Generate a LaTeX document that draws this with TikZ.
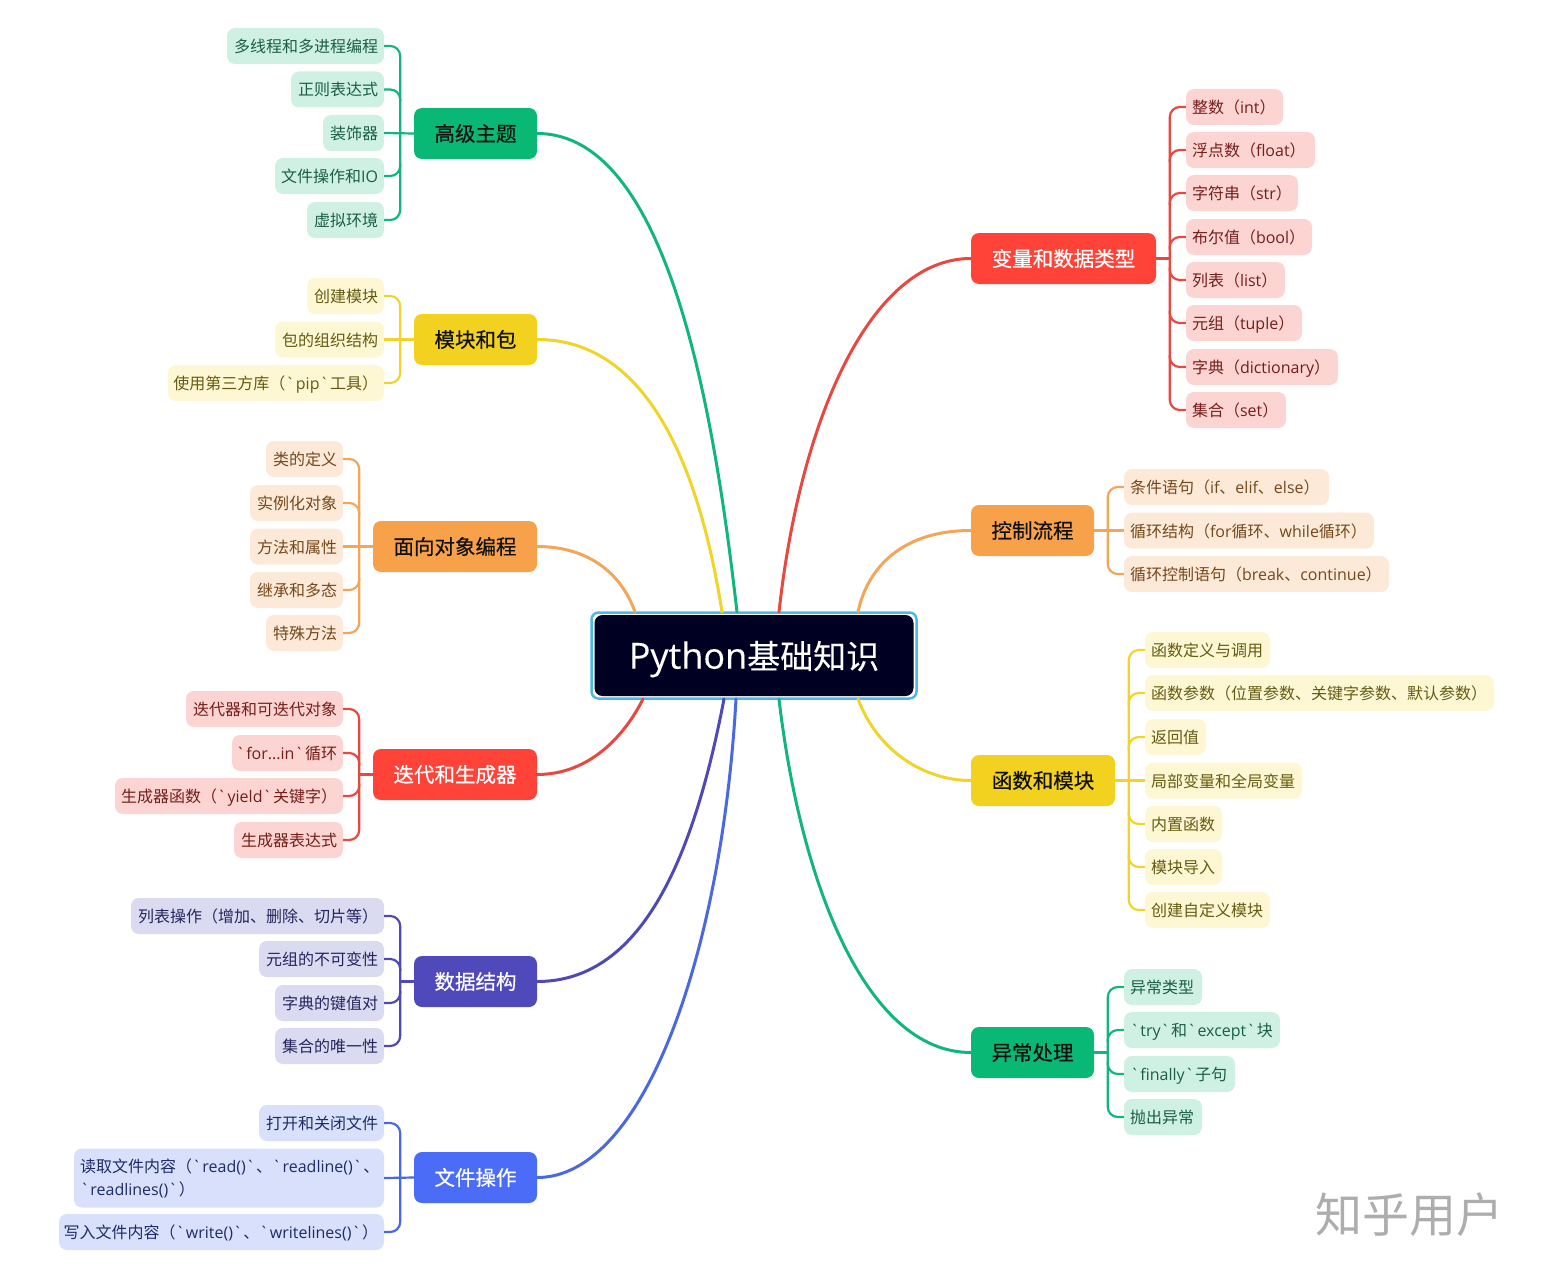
\documentclass[tikz,border=0pt]{standalone}
\usepackage{fontspec}
\setmainfont{Noto Sans CJK SC}
\newfontfamily\latf{Open Sans}
\newfontfamily\hubf[FakeBold=0.45]{Noto Sans CJK SC}
\newfontfamily\ttlc[FakeBold=0.15]{Noto Sans CJK SC}
\newfontfamily\ttll[FakeBold=0.2]{Open Sans}
\newcommand\la[1]{{\latf\spaceskip=1.2pt\relax #1}}
\newcommand\lift{\rule[-7pt]{0pt}{27pt}}
\definecolor{grnH}{HTML}{09B874}\definecolor{grnL}{HTML}{CFF1E4}\definecolor{grnT}{HTML}{1B5E45}\definecolor{grnC}{HTML}{12B57F}
\definecolor{yelH}{HTML}{F2D21F}\definecolor{yelL}{HTML}{FDF8D3}\definecolor{yelT}{HTML}{665A12}\definecolor{yelC}{HTML}{F0D429}
\definecolor{oraH}{HTML}{F7A14B}\definecolor{oraL}{HTML}{FDE9D8}\definecolor{oraT}{HTML}{74491C}\definecolor{oraC}{HTML}{F2A65A}
\definecolor{redH}{HTML}{FF4338}\definecolor{redL}{HTML}{FCD5D3}\definecolor{redT}{HTML}{741E1A}\definecolor{redC}{HTML}{E8483F}
\definecolor{purH}{HTML}{4F49BC}\definecolor{purL}{HTML}{DADAF1}\definecolor{purT}{HTML}{26245E}\definecolor{purC}{HTML}{4F49B5}
\definecolor{bluH}{HTML}{4A6CF7}\definecolor{bluL}{HTML}{D8E0FB}\definecolor{bluT}{HTML}{1E2C66}\definecolor{bluC}{HTML}{4A68E0}
\definecolor{navy}{HTML}{000022}\definecolor{halo}{HTML}{4DB8E8}\definecolor{ink}{HTML}{111111}
\tikzset{
  leafb/.style={rounded corners=8pt,inner xsep=6pt,inner ysep=0pt,minimum height=36pt,font=\fontsize{16}{23}\selectfont},
  hubb/.style={rounded corners=8pt,inner sep=0pt,minimum height=51pt,font=\fontsize{20.5}{24}\selectfont\hubf},
  brk/.style={line width=2.2pt,rounded corners=10pt},
  mainc/.style={line width=3pt,line cap=round},
  grnS/.style={fill=grnL,text=grnT},yelS/.style={fill=yelL,text=yelT},oraS/.style={fill=oraL,text=oraT},
  redS/.style={fill=redL,text=redT},purS/.style={fill=purL,text=purT},bluS/.style={fill=bluL,text=bluT},
}
\newcommand\lleaf[6]{\pgfmathsetmacro\lfw{#3-#2-12}\node[leafb,#6] (#1) at ({(#2+#3)/2},#4) {\makebox[\lfw pt][r]{\lift #5}};}
\newcommand\rleaf[6]{\pgfmathsetmacro\lfw{#3-#2-12}\node[leafb,#6] (#1) at ({(#2+#3)/2},#4) {\makebox[\lfw pt][l]{\lift #5}};}
\newcommand\hub[6]{\pgfmathsetmacro\lfw{#3-#2}\node[hubb,fill=#6,minimum width=\lfw pt] (#1) at ({(#2+#3)/2},#4) {#5};}
\newcommand\spine[5]{\draw[brk,#5] (#1.#3) -- ++(#4,0) |- (#2.#3);}
\newcommand\twig[5]{\draw[brk,#5] (#1.#2) -- ++(#3,0) -- ++(0,#4);}
\begin{document}
\begin{tikzpicture}[x=1pt,y=-1pt]
\useasboundingbox (0,0) rectangle (1546,1268);
% centre
\node[draw=halo,line width=2.5pt,rounded corners=7pt,minimum width=325pt,minimum height=86pt,inner sep=0pt] (outer) at (754,655.5) {};
\node[fill=navy,rounded corners=8pt,minimum width=319pt,minimum height=81pt,inner sep=0pt,text=white,font=\fontsize{33}{36}\selectfont] (ctr) at (754,655.5) {\rule[-8pt]{0pt}{43pt}{\fontsize{36}{36}\selectfont\ttll Python}{\ttlc 基础知识}};
\coordinate (pa) at (737,612);\coordinate (pb) at (722,612);\coordinate (pc) at (635,612);
\coordinate (pd) at (643,699);\coordinate (pe) at (724,699);\coordinate (pf) at (736,699);
\coordinate (pg) at (779,612);\coordinate (ph) at (858,612);\coordinate (pi) at (858,699);\coordinate (pj) at (779,699);
% hubs
\hub{h1}{414}{537}{133.5}{\textcolor{ink}{高级主题}}{grnH}
\hub{h2}{414}{537}{339.5}{\textcolor{ink}{模块和包}}{yelH}
\hub{h3}{373}{537}{546.5}{\textcolor{ink}{面向对象编程}}{oraH}
\hub{h4}{373}{537}{774.5}{\textcolor{white}{迭代和生成器}}{redH}
\hub{h5}{414}{537}{981.5}{\textcolor{white}{数据结构}}{purH}
\hub{h6}{414}{537}{1177.5}{\textcolor{white}{文件操作}}{bluH}
\hub{h7}{971}{1156}{258.5}{\textcolor{white}{变量和数据类型}}{redH}
\hub{h8}{971}{1094}{530.5}{\textcolor{ink}{控制流程}}{oraH}
\hub{h9}{971}{1115}{780.5}{\textcolor{ink}{函数和模块}}{yelH}
\hub{h10}{971}{1094}{1052.5}{\textcolor{ink}{异常处理}}{grnH}
% main connectors
\draw[mainc,grnC] (h1.east) .. controls (670,133.5) and (715,420) .. (pa);
\draw[mainc,yelC] (h2.east) .. controls (635,339.5) and (695,440) .. (pb);
\draw[mainc,oraC] (h3.east) .. controls (590,546.5) and (622,575) .. (pc);
\draw[mainc,redC] (h4.east) .. controls (590,774.5) and (625,735) .. (pd);
\draw[mainc,purC] (h5.east) .. controls (645,981.5) and (695,850) .. (pe);
\draw[mainc,bluC] (h6.east) .. controls (645,1177.5) and (722,950) .. (pf);
\draw[mainc,redC] (h7.west) .. controls (870,258.5) and (800,420) .. (pg);
\draw[mainc,oraC] (h8.west) .. controls (905,530.5) and (868,565) .. (ph);
\draw[mainc,yelC] (h9.west) .. controls (925,780.5) and (878,752) .. (pi);
\draw[mainc,grnC] (h10.west) .. controls (865,1052.5) and (800,880) .. (pj);
% leaves: advanced topics
\lleaf{a1}{227}{384}{46}{多线程和多进程编程}{grnS}
\lleaf{a2}{291}{384}{89.5}{正则表达式}{grnS}
\lleaf{a3}{323}{384}{133}{装饰器}{grnS}
\lleaf{a4}{275}{384}{176}{文件操作和\la{IO}}{grnS}
\lleaf{a5}{307}{384}{220}{虚拟环境}{grnS}
\spine{a1}{a5}{east}{16}{grnC}\twig{a2}{east}{16}{12}{grnC}\twig{a4}{east}{16}{-12}{grnC}
\draw[brk,grnC] (h1.west) -- (a3.east);
% modules
\lleaf{b1}{307}{384}{296}{创建模块}{yelS}
\lleaf{b2}{275}{384}{339.5}{包的组织结构}{yelS}
\lleaf{b3}{168}{384}{383}{使用第三方库（\la{` pip` }工具）}{yelS}
\spine{b1}{b3}{east}{16}{yelC}
\draw[brk,yelC] (h2.west) -- (b2.east);
% OOP
\lleaf{c1}{266}{343}{459}{类的定义}{oraS}
\lleaf{c2}{250}{343}{503}{实例化对象}{oraS}
\lleaf{c3}{250}{343}{546.5}{方法和属性}{oraS}
\lleaf{c4}{250}{343}{590}{继承和多态}{oraS}
\lleaf{c5}{266}{343}{633}{特殊方法}{oraS}
\spine{c1}{c5}{east}{16}{oraC}\twig{c2}{east}{16}{12}{oraC}\twig{c4}{east}{16}{-12}{oraC}
\draw[brk,oraC] (h3.west) -- (c3.east);
% iterators
\lleaf{d1}{186}{343}{709}{迭代器和可迭代对象}{redS}
\lleaf{d2}{232}{343}{753}{\la{` for...in` }循环}{redS}
\lleaf{d3}{115}{343}{796}{生成器函数（\la{` yield` }关键字）}{redS}
\lleaf{d4}{234}{343}{840}{生成器表达式}{redS}
\spine{d1}{d4}{east}{16}{redC}\twig{d2}{east}{16}{12}{redC}\twig{d3}{east}{16}{-12}{redC}
\draw[brk,redC] (h4.west) -- ++(-14,0);
% data structures
\lleaf{e1}{131}{384}{916}{列表操作（增加、删除、切片等）}{purS}
\lleaf{e2}{259}{384}{959}{元组的不可变性}{purS}
\lleaf{e3}{275}{384}{1003}{字典的键值对}{purS}
\lleaf{e4}{275}{384}{1046}{集合的唯一性}{purS}
\spine{e1}{e4}{east}{16}{purC}\twig{e2}{east}{16}{12}{purC}\twig{e3}{east}{16}{-12}{purC}
\draw[brk,purC] (h5.west) -- ++(-14,0);
% files
\lleaf{f1}{259}{384}{1123}{打开和关闭文件}{bluS}
\node[leafb,bluS,minimum height=59pt,minimum width=310pt,align=left] (f2) at (229,1178) {\makebox[298pt][l]{读取文件内容（\la{` read()` }、\la{` readline()` }、}\\\makebox[298pt][l]{\la{` readlines()` }）}};
\lleaf{f3}{59}{384}{1232}{写入文件内容（\la{` write()` }、\la{` writelines()` }）}{bluS}
\spine{f1}{f3}{east}{16}{bluC}
\draw[brk,bluC] (h6.west) -- (f2.east);
% variables
\rleaf{g1}{1186}{1283}{107}{整数（\la{int}）}{redS}
\rleaf{g2}{1186}{1315}{150}{浮点数（\la{float}）}{redS}
\rleaf{g3}{1186}{1298}{193}{字符串（\la{str}）}{redS}
\rleaf{g4}{1186}{1312}{237}{布尔值（\la{bool}）}{redS}
\rleaf{g5}{1186}{1285}{280}{列表（\la{list}）}{redS}
\rleaf{g6}{1186}{1302}{323}{元组（\la{tuple}）}{redS}
\rleaf{g7}{1186}{1338}{367}{字典（\la{dictionary}）}{redS}
\rleaf{g8}{1186}{1286}{410}{集合（\la{set}）}{redS}
\spine{g1}{g8}{west}{-16}{redC}
\twig{g2}{west}{-16}{12}{redC}\twig{g3}{west}{-16}{12}{redC}\twig{g4}{west}{-16}{12}{redC}
\twig{g5}{west}{-16}{-12}{redC}\twig{g6}{west}{-16}{-12}{redC}\twig{g7}{west}{-16}{-12}{redC}
\draw[brk,redC] (h7.east) -- ++(14,0);
% control flow
\rleaf{i1}{1124}{1329}{487}{条件语句（\la{if}、\la{elif}、\la{else}）}{oraS}
\rleaf{i2}{1124}{1374}{530.5}{循环结构（\la{for}循环、\la{while}循环）}{oraS}
\rleaf{i3}{1124}{1389}{574}{循环控制语句（\la{break}、\la{continue}）}{oraS}
\spine{i1}{i3}{west}{-16}{oraC}
\draw[brk,oraC] (h8.east) -- (i2.west);
% functions
\rleaf{j1}{1145}{1270}{650}{函数定义与调用}{yelS}
\rleaf{j2}{1145}{1494}{693}{函数参数（位置参数、关键字参数、默认参数）}{yelS}
\rleaf{j3}{1145}{1206}{737}{返回值}{yelS}
\rleaf{j4}{1145}{1302}{780.5}{局部变量和全局变量}{yelS}
\rleaf{j5}{1145}{1222}{824}{内置函数}{yelS}
\rleaf{j6}{1145}{1222}{867}{模块导入}{yelS}
\rleaf{j7}{1145}{1270}{910}{创建自定义模块}{yelS}
\spine{j1}{j7}{west}{-16}{yelC}
\twig{j2}{west}{-16}{12}{yelC}\twig{j3}{west}{-16}{12}{yelC}
\twig{j5}{west}{-16}{-12}{yelC}\twig{j6}{west}{-16}{-12}{yelC}
\draw[brk,yelC] (h9.east) -- (j4.west);
% exceptions
\rleaf{k1}{1124}{1202}{987}{异常类型}{grnS}
\rleaf{k2}{1124}{1280}{1030}{\la{` try` }和\la{` except` }块}{grnS}
\rleaf{k3}{1124}{1235}{1074}{\la{` finally` }子句}{grnS}
\rleaf{k4}{1124}{1202}{1117}{抛出异常}{grnS}
\spine{k1}{k4}{west}{-16}{grnC}
\twig{k2}{west}{-16}{12}{grnC}\twig{k3}{west}{-16}{-12}{grnC}
\draw[brk,grnC] (h10.east) -- ++(14,0);
% watermark
\node[text=black!32,font=\fontsize{47}{50}\selectfont,inner sep=0pt] (wm) at (1409,1215) {知乎用户};
\end{tikzpicture}
\end{document}
